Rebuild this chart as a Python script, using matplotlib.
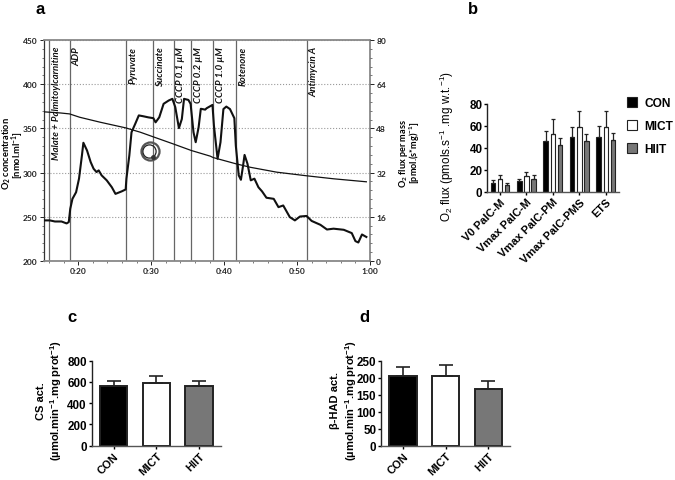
#!/usr/bin/env python3
import numpy as np
import matplotlib
matplotlib.use("Agg")
import matplotlib.pyplot as plt
from matplotlib.ticker import FuncFormatter, MultipleLocator

plt.rcParams["font.family"] = ["Liberation Sans", "DejaVu Sans"]
plt.rcParams["mathtext.default"] = "regular"

W, H = 675, 481

# ---------------- DATA ----------------

# panel a: O2 flux trace (thick) and O2 concentration trace (thin), time in minutes
flux_time = [15.35, 16.1, 16.8, 17.7, 18.4, 18.7, 18.9, 19.2, 19.7, 20.1, 20.5, 20.7, 21.2, 21.7,
             22.1, 22.5, 22.8, 23.2, 23.9, 24.6, 25.1, 25.95, 26.5, 26.6, 27.0, 27.3, 27.8, 28.3,
             28.9, 29.6, 30.3, 30.6, 31.1, 31.7, 32.4, 32.9, 33.3, 33.8, 34.2, 34.5, 35.1, 35.4,
             35.8, 36.1, 36.5, 36.8, 37.4, 37.6, 38.4, 38.6, 39.1, 39.5, 39.9, 40.3, 40.8, 41.4,
             41.6, 42.0, 42.3, 42.6, 42.8, 43.2, 43.65, 44.15, 44.7, 45.2, 45.8, 46.8, 47.45,
             48.1, 49.0, 49.7, 50.4, 51.3, 52.0, 53.2, 54.1, 55.0, 56.4, 57.5, 58.0, 58.4, 58.9,
             59.5]
flux_vals = [14.7, 14.7, 14.3, 14.3, 13.6, 14.1, 18.9, 22.5, 24.9, 29.8, 38.2, 42.8, 40.0, 35.8,
             33.4, 32.2, 32.8, 31.0, 29.2, 26.7, 24.3, 25.2, 25.9, 29.8, 38.2, 46.6, 49.6, 52.7,
             52.4, 52.0, 51.7, 50.2, 52.0, 56.9, 58.1, 58.7, 55.7, 48.1, 51.4, 58.7, 58.3, 56.9,
             46.6, 43.0, 48.4, 55.1, 54.8, 55.3, 56.5, 49.0, 37.0, 43.0, 55.0, 55.9, 55.0, 51.7,
             41.8, 31.0, 29.4, 34.6, 38.4, 35.2, 29.2, 29.8, 26.7, 25.2, 22.9, 22.5, 19.5,
             20.1, 15.9, 14.7, 16.1, 16.3, 14.5, 13.1, 11.4, 11.7, 11.3, 10.1, 7.2, 6.7, 9.6,
             8.7]
o2_time = [15.35, 17.5, 18.8, 20.2, 23.0, 26.5, 28.5, 30.3, 33.0, 35.5, 38.1, 38.5, 41.6, 43.6,
           47.2, 51.3, 55.0, 59.5]
o2_vals = [368.7, 367.5, 366.4, 362.6, 357.0, 350.6, 345.7, 340.4, 332.5, 325.0, 318.6, 317.0,
           310.0, 306.0, 300.5, 296.4, 293.0, 289.6]
reagent_times = [16.0, 18.8, 26.5, 30.3, 33.1, 35.5, 38.5, 41.6, 51.3]
reagent_labels = ["Malate + Palmitoylcarnitine", "ADP", "Pyruvate", "Succinate", "CCCP 0.1 µM",
                  "CCCP 0.2 µM", "CCCP 1.0 µM", "Rotenone", "Antimycin A"]

# panel b
states = ["V0 PalC-M", "Vmax PalC-M", "Vmax PalC-PM", "Vmax PalC-PMS", "ETS"]
con_flux = [8, 9.5, 46, 49.5, 50]
con_err = [2.5, 2.5, 9, 9.5, 9.5]
mict_flux = [12, 14.5, 53, 59, 59]
mict_err = [3, 3.5, 13, 15, 15]
hiit_flux = [6, 12, 42.5, 46, 47.5]
hiit_err = [1.5, 3, 6.5, 7, 6.5]

# panels c, d
groups = ["CON", "MICT", "HIIT"]
group_colors = ["black", "white", "#777777"]
cs_vals = [565, 592, 558]
cs_err = [45, 65, 52]
had_vals = [205, 205, 166]
had_err = [26, 32, 23]


def axes_px(fig, left, top, right, bottom):
    return fig.add_axes([left / W, 1 - bottom / H, (right - left) / W, (bottom - top) / H])


def clock(v, pos):
    return "%d:%02d" % (int(round(v)) // 60, int(round(v)) % 60)


def style_bar_axes(ax):
    ax.spines["top"].set_visible(False)
    ax.spines["right"].set_visible(False)
    ax.spines["left"].set_linewidth(1.0)
    ax.spines["left"].set_color("#222222")
    ax.spines["bottom"].set_linewidth(1.0)
    ax.spines["bottom"].set_color("#555555")
    ax.tick_params(axis="y", length=2.5, width=1.0, pad=1, labelsize=8.4)
    ax.tick_params(axis="x", length=2.5, width=1.0, pad=1, labelsize=8.0)
    for t in ax.get_yticklabels():
        t.set_fontweight("bold")
    for t in ax.get_xticklabels():
        t.set_fontweight("bold")
        t.set_rotation(45)
        t.set_ha("right")
        t.set_rotation_mode("anchor")


def place_ylabel(ax, px, py):
    ax.yaxis.set_label_coords(px / W, 1 - py / H, transform=fig.transFigure)
    ax.yaxis.label.set_verticalalignment("center")


def group_bars(ax, vals, errs):
    x = np.arange(len(groups))
    ax.bar(x, vals, width=0.64, color=group_colors, edgecolor="#222222", linewidth=1.4)
    ax.errorbar(x, vals, yerr=[np.zeros(len(errs)), errs], fmt="none", ecolor="#222222",
                elinewidth=1.2, capsize=5, capthick=1.2)
    ax.set_xticks(x)
    ax.set_xticklabels(groups)
    ax.set_xlim(-0.516, 2.51)


fig = plt.figure(figsize=(W / 100, H / 100), dpi=100)

# ---------------- PANEL A ----------------

ax_a = axes_px(fig, 44, 41, 370, 262)
ax_a.set_xlim(15.3, 60)
ax_a.set_ylim(200, 450)
ax_a.grid(axis="y", color="#999999", linestyle=":", linewidth=0.8)
ax_a.set_axisbelow(True)
ax_a.xaxis.set_major_locator(MultipleLocator(10))
ax_a.xaxis.set_minor_locator(MultipleLocator(2))
ax_a.xaxis.set_major_formatter(FuncFormatter(clock))
ax_a.yaxis.set_major_locator(MultipleLocator(50))
ax_a.yaxis.set_minor_locator(MultipleLocator(10))
ax_a.tick_params(which="major", length=3, width=0.7, pad=1.5, labelsize=6.0, colors="#222222")
ax_a.tick_params(which="minor", length=1.5, width=0.5, colors="#444444")
for t in ax_a.get_xticklabels() + ax_a.get_yticklabels():
    t.set_fontfamily("Lato")
    t.set_fontweight("bold")
for name, sp in ax_a.spines.items():
    sp.set_color("#888888")
    sp.set_linewidth(1.3)
ax_a.spines["left"].set_color("#333333")
ax_a.spines["left"].set_linewidth(0.9)

ax_f = ax_a.twinx()
ax_f.set_ylim(0, 80)
ax_f.yaxis.set_major_locator(MultipleLocator(16))
ax_f.yaxis.set_minor_locator(MultipleLocator(3.2))
ax_f.tick_params(which="major", length=3, width=0.7, pad=1.5, labelsize=6.0, colors="#222222")
ax_f.tick_params(which="minor", length=1.5, width=0.5, colors="#444444")
for t in ax_f.get_yticklabels():
    t.set_fontfamily("Lato")
    t.set_fontweight("bold")
for name, sp in ax_f.spines.items():
    sp.set_visible(False)

for t0, lab in zip(reagent_times, reagent_labels):
    ax_a.axvline(t0, color="#666666", linewidth=0.9, zorder=1.5)
    ax_a.annotate(lab, xy=(t0, 1), xycoords=ax_a.get_xaxis_transform(), xytext=(7, -6),
                  textcoords="offset pixels", rotation=90, ha="center", va="top",
                  fontsize=6.9, fontfamily="Lato", fontweight="bold", fontstyle="italic",
                  color="#111111")

ax_a.plot(o2_time, o2_vals, color="#111111", linewidth=0.9, zorder=3)
ax_f.plot(flux_time, flux_vals, color="#111111", linewidth=1.5, zorder=3)

# round mark drawn on the trace in the original
ax_a.plot([29.85], [324], marker="o", ms=13, mfc="none", mec="#555555", mew=1.6, zorder=4)
ax_a.plot([29.75], [324], marker="o", ms=9.5, mfc="none", mec="#222222", mew=0.9, zorder=4)
ax_a.plot([30.3], [318], marker="o", ms=3.5, mfc="#333333", mec="none", zorder=4)

label_font = {"rotation": 90, "ha": "center", "va": "center", "fontweight": "bold", "fontfamily": "Lato"}
fig.text(7 / W, 1 - 154 / H, "O$_2$ concentration", fontsize=6.7, **label_font)
fig.text(18 / W, 1 - 155 / H, "[nmol.ml$^{-1}$]", fontsize=6.7, **label_font)
fig.text(403 / W, 1 - 153 / H, "O$_2$ flux per mass", fontsize=6.6, **label_font)
fig.text(415 / W, 1 - 153 / H, "[pmol.(s*mg)$^{-1}$]", fontsize=6.6, **label_font)

# ---------------- PANEL B ----------------

ax_b = axes_px(fig, 487.3, 105, 619, 192.7)
x_b = np.arange(len(states))
for off, vals, errs, col, lab in [(-0.27, con_flux, con_err, group_colors[0], groups[0]),
                                  (0.0, mict_flux, mict_err, group_colors[1], groups[1]),
                                  (0.27, hiit_flux, hiit_err, group_colors[2], groups[2])]:
    ax_b.bar(x_b + off, vals, width=0.17, color=col, edgecolor="#222222", linewidth=0.8, label=lab)
    ax_b.errorbar(x_b + off, vals, yerr=[np.zeros(len(errs)), errs], fmt="none", ecolor="#222222",
                  elinewidth=0.9, capsize=1.5, capthick=0.9)
ax_b.set_xticks(x_b)
ax_b.set_xticklabels(states)
ax_b.set_xlim(-0.48, 4.5)
ax_b.set_ylim(0, 80)
ax_b.set_yticks([0, 20, 40, 60, 80])
style_bar_axes(ax_b)
ax_b.set_ylabel("O$_2$ flux (pmols.s$^{-1}$ .mg w.t.$^{-1}$)", fontsize=8.4)
place_ylabel(ax_b, 447, 146)
ax_b.legend(loc="upper left", bbox_to_anchor=(627 / W, 1 - 98 / H), bbox_transform=fig.transFigure,
            frameon=False, handlelength=0.85, handleheight=0.9, handletextpad=0.6, labelspacing=0.9,
            borderpad=0, borderaxespad=0, prop={"size": 8.6, "weight": "bold"})

# ---------------- PANELS C, D ----------------

ax_c = axes_px(fig, 91.7, 361.7, 220.7, 446.7)
group_bars(ax_c, cs_vals, cs_err)
ax_c.set_ylim(0, 800)
ax_c.set_yticks([0, 200, 400, 600, 800])
style_bar_axes(ax_c)
ax_c.set_ylabel("CS act.\n(µmol.min$^{-1}$.mg prot$^{-1}$)", fontsize=8.0, fontweight="bold")
place_ylabel(ax_c, 50, 401)

ax_d = axes_px(fig, 381, 361.7, 510, 446.7)
group_bars(ax_d, had_vals, had_err)
ax_d.set_ylim(0, 250)
ax_d.set_yticks([0, 50, 100, 150, 200, 250])
style_bar_axes(ax_d)
ax_d.set_ylabel("β-HAD act.\n(µmol.min$^{-1}$.mg prot$^{-1}$)", fontsize=8.0, fontweight="bold")
place_ylabel(ax_d, 344.5, 401)

for lab, px, py in [("a", 40, 9), ("b", 473, 9), ("c", 72, 318), ("d", 364, 318)]:
    fig.text(px / W, 1 - py / H, lab, ha="center", va="center", fontsize=12, fontweight="bold")

fig.savefig("out.png", dpi=100)
